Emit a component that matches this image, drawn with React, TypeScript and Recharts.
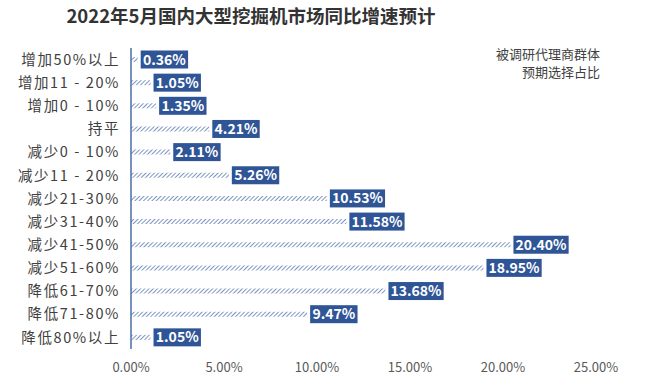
import React from "react"
import { BarChart, Bar, XAxis, YAxis, LabelList } from "recharts"

const categories: string[] = [
  "增加50%以上",
  "增加11 - 20%",
  "增加0 - 10%",
  "持平",
  "减少0 - 10%",
  "减少11 - 20%",
  "减少21-30%",
  "减少31-40%",
  "减少41-50%",
  "减少51-60%",
  "降低61-70%",
  "降低71-80%",
  "降低80%以上",
]

const shares: number[] = [
  0.36, 1.05, 1.35, 4.21, 2.11, 5.26, 10.53, 11.58, 20.4, 18.95, 13.68, 9.47, 1.05,
]

const xTicks: number[] = [0, 5, 10, 15, 20, 25]

const data = categories.map((name, i) => ({ name, value: shares[i] }))

const FONT = '"Noto Sans CJK SC", "Noto Sans", sans-serif'
const BOX = "#2F5597"

// rough width of the label text, bold 14px
const textWidth = (s: string) =>
  s.split("").reduce((w, c) => w + (c === "." ? 4 : c === "%" ? 12 : 7.8), 0)

type LabelProps = {
  x?: number
  y?: number
  width?: number
  height?: number
  value?: number
}

const BoxLabel: React.FC<LabelProps> = ({ x = 0, y = 0, width = 0, height = 0, value = 0 }) => {
  const txt = Number(value).toFixed(2) + "%"
  const w = textWidth(txt) + 8
  const bx = x + width + 3
  const cy = y + height / 2
  return (
    <g>
      <rect x={bx} y={cy - 9} width={w} height={18} fill={BOX} />
      <text
        x={bx + w / 2}
        y={cy}
        dy="0.36em"
        textAnchor="middle"
        fill="#fff"
        fontSize={14}
        fontWeight="bold"
        fontFamily={FONT}
      >
        {txt}
      </text>
    </g>
  )
}

type TickProps = {
  x?: number
  y?: number
  payload?: { value: string }
}

const CatTick: React.FC<TickProps> = ({ x, y, payload }) => (
  <text
    x={x}
    y={y}
    dy="0.36em"
    textAnchor="end"
    fill="#404040"
    fontSize={14.5}
    letterSpacing={1.6}
    fontFamily={FONT}
  >
    {payload?.value}
  </text>
)

export default function App() {
  return (
    <div
      style={{
        position: "absolute",
        left: 0,
        top: 0,
        width: 646,
        height: 387,
        background: "#fff",
        fontFamily: FONT,
      }}
    >
      <div
        style={{
          position: "absolute",
          left: 0,
          top: 2,
          width: 502,
          textAlign: "center",
          fontSize: 18.5,
          fontWeight: "bold",
          color: "#333",
        }}
      >
        2022年5月国内大型挖掘机市场同比增速预计
      </div>
      <div
        style={{
          position: "absolute",
          right: 46,
          top: 45,
          textAlign: "right",
          fontSize: 13,
          lineHeight: "18px",
          color: "#404040",
        }}
      >
        被调研代理商群体
        <br />
        预期选择占比
      </div>
      <BarChart
        width={646}
        height={387}
        data={data}
        layout="vertical"
        barCategoryGap={0}
        margin={{ top: 48, right: 50, left: 0, bottom: 8 }}
      >
        <defs>
          <pattern
            id="hatch"
            patternUnits="userSpaceOnUse"
            width={3}
            height={3}
            patternTransform="rotate(45)"
          >
            <rect width={3} height={3} fill="#fff" />
            <line x1={0} y1={0} x2={0} y2={3} stroke="#7B96C0" strokeWidth={2} />
          </pattern>
        </defs>
        <XAxis
          type="number"
          domain={[0, 25]}
          ticks={xTicks}
          axisLine={false}
          tickLine={false}
          tickMargin={8}
          height={30}
          tickFormatter={(v: number) => v.toFixed(2) + "%"}
          tick={{ fill: "#595959", fontSize: 13, fontFamily: FONT }}
          interval={0}
        />
        <YAxis
          type="category"
          dataKey="name"
          width={131}
          axisLine={{ stroke: "#4A6FA5", strokeWidth: 1.5 }}
          tickLine={false}
          tickMargin={5}
          interval={0}
          tick={<CatTick />}
        />
        <Bar dataKey="value" fill="url(#hatch)" barSize={5} isAnimationActive={false}>
          <LabelList dataKey="value" content={<BoxLabel />} />
        </Bar>
      </BarChart>
    </div>
  )
}
